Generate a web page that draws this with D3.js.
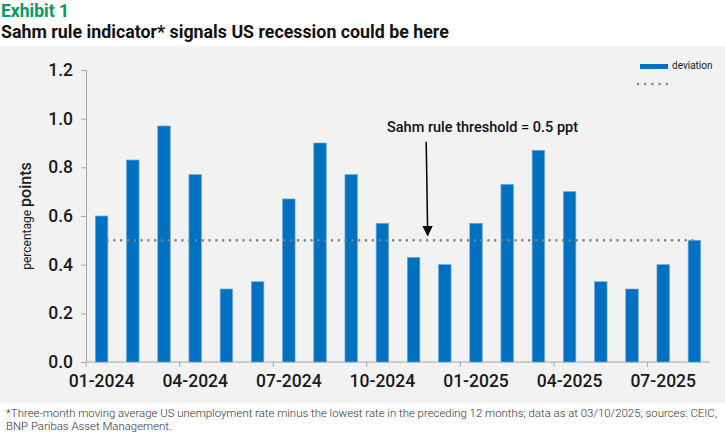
<!DOCTYPE html>
<html>
<head>
<meta charset="utf-8">
<script src="https://cdn.jsdelivr.net/npm/d3@7"></script>
<style>
  body { margin: 0; background: #fff; }
  svg { display: block; font-family: Roboto, "Noto Sans", sans-serif; }
</style>
</head>
<body>
<svg id="chart" width="725" height="436"></svg>
<script>
// monthly Sahm rule deviation, ppt
var months = ["01-2024","02-2024","03-2024","04-2024","05-2024","06-2024","07-2024","08-2024","09-2024","10-2024",
              "11-2024","12-2024","01-2025","02-2025","03-2025","04-2025","05-2025","06-2025","07-2025","08-2025"];
var deviation = [0.60, 0.83, 0.97, 0.77, 0.30, 0.33, 0.67, 0.90, 0.77, 0.57,
                 0.43, 0.40, 0.57, 0.73, 0.87, 0.70, 0.33, 0.30, 0.40, 0.50];
var threshold = 0.5;
var yTicks = [0, 0.2, 0.4, 0.6, 0.8, 1.0, 1.2];
var xTickLabels = ["01-2024","04-2024","07-2024","10-2024","01-2025","04-2025","07-2025"];

var svg = d3.select("#chart");

// grey panel
svg.append("rect").attr("x", 0).attr("y", 46).attr("width", 725).attr("height", 357).attr("fill", "#f2f2f2");

svg.append("text").attr("x", 1).attr("y", 17)
  .attr("font-size", 17.5).attr("font-weight", 700).attr("fill", "#009b5f")
  .text("Exhibit 1");
svg.append("text").attr("class", "title").attr("x", 1).attr("y", 38)
  .attr("font-size", 17.5).attr("font-weight", 700).attr("fill", "#111")
  .text("Sahm rule indicator* signals US recession could be here");

var x = d3.scaleBand().domain(months).range([86, 710]).padding(0);
var y = d3.scaleLinear().domain([0, 1.2]).range([362, 70]);
var barW = x.step() * 0.4;

// y axis
var yAxis = svg.append("g").attr("transform", "translate(86,0)")
  .call(d3.axisLeft(y).tickValues(yTicks).tickFormat(d3.format(".1f")).tickSize(5).tickPadding(8));
yAxis.select(".domain").attr("stroke", "#a6a6a6");
yAxis.selectAll(".tick line").attr("stroke", "#a6a6a6");
yAxis.selectAll("text").attr("font-size", 17.5).attr("font-weight", 500).attr("fill", "#1a1a1a")
  .attr("font-family", "Roboto, sans-serif");

// x axis: ticks at the left edge of every third month, labels centred on the month
var xg = svg.append("g").attr("transform", "translate(0," + y(0) + ")");
xg.append("line").attr("x1", 86).attr("x2", 710).attr("stroke", "#a6a6a6");
xg.selectAll(".xt").data(xTickLabels).enter().append("line")
  .attr("x1", function(d){ return x(d); }).attr("x2", function(d){ return x(d); })
  .attr("y1", 0).attr("y2", 5).attr("stroke", "#a6a6a6");
xg.selectAll(".xl").data(xTickLabels).enter().append("text")
  .attr("x", function(d){ return x(d) + x.bandwidth() / 2; }).attr("y", 25)
  .attr("text-anchor", "middle").attr("font-size", 17.5).attr("font-weight", 500).attr("fill", "#1a1a1a")
  .text(function(d){ return d; });

// y label
var yl = svg.append("text").attr("transform", "translate(31,216) rotate(-90)")
  .attr("text-anchor", "middle").attr("fill", "#1a1a1a");
yl.append("tspan").attr("font-size", 12).text("percentage ");
yl.append("tspan").attr("font-size", 16).attr("font-weight", 500).text("points");

// bars
svg.selectAll(".bar").data(deviation).enter().append("rect")
  .attr("x", function(d, i){ return x(months[i]) + x.bandwidth() / 2 - barW / 2; })
  .attr("y", function(d){ return y(d); })
  .attr("width", barW)
  .attr("height", function(d){ return y(0) - y(d); })
  .attr("fill", "#0070c0").attr("stroke", "#6aa7de").attr("stroke-width", 0.7);

// threshold dotted line
svg.append("line")
  .attr("x1", x(months[0]) + x.bandwidth() / 2 + 6)
  .attr("x2", x(months[months.length - 1]) + x.bandwidth() / 2)
  .attr("y1", y(threshold)).attr("y2", y(threshold))
  .attr("stroke", "#808080").attr("stroke-width", 2.6).attr("stroke-linecap", "round")
  .attr("stroke-dasharray", "0,6.8");

// annotation
svg.append("defs").append("marker").attr("id", "ah")
  .attr("viewBox", "0 0 10 10").attr("refX", 9).attr("refY", 5)
  .attr("markerWidth", 7).attr("markerHeight", 7).attr("orient", "auto")
  .append("path").attr("d", "M0,0L10,5L0,10z").attr("fill", "#000");
var ax = x(months[11]);
svg.append("line").attr("x1", ax - 3).attr("y1", y(1.0) + 23)
  .attr("x2", ax - 1.5).attr("y2", y(threshold) - 5)
  .attr("stroke", "#000").attr("stroke-width", 1.5).attr("marker-end", "url(#ah)");
svg.append("text").attr("x", 387).attr("y", 132)
  .attr("font-size", 14.5).attr("font-weight", 500).attr("fill", "#111")
  .text("Sahm rule threshold = " + threshold + " ppt");

// legend
svg.append("rect").attr("x", 640).attr("y", 64).attr("width", 28).attr("height", 5).attr("fill", "#0070c0");
svg.append("text").attr("x", 672).attr("y", 69).attr("font-size", 10).attr("fill", "#222").text("deviation");
svg.append("line").attr("x1", 638).attr("x2", 667).attr("y1", 84).attr("y2", 84)
  .attr("stroke", "#808080").attr("stroke-width", 2.6).attr("stroke-linecap", "round")
  .attr("stroke-dasharray", "0,7.2");

// footnote
var foot = ["*Three-month moving average US unemployment rate minus the lowest rate in the preceding 12 months; data as at 03/10/2025; sources: CEIC,",
            "BNP Paribas Asset Management."];
svg.selectAll(".foot").data(foot).enter().append("text")
  .attr("x", 6).attr("y", function(d, i){ return 417 + i * 12.5; })
  .attr("font-size", 11).attr("fill", "#333").attr("font-weight", 300)
  .text(function(d){ return d; });

// fit title and footnote widths to the reference
var t = svg.select(".title").node();
var tw = t.getComputedTextLength();
if (tw > 0) d3.select(t).attr("font-size", 17.5 * 448 / tw);
var fn = svg.selectAll("text").filter(function(d){ return d === foot[0]; }).node();
var fw = fn.getComputedTextLength();
if (fw > 0) svg.selectAll("text").filter(function(d){ return foot.indexOf(d) >= 0; }).attr("font-size", 11 * 712 / fw);
</script>
</body>
</html>
